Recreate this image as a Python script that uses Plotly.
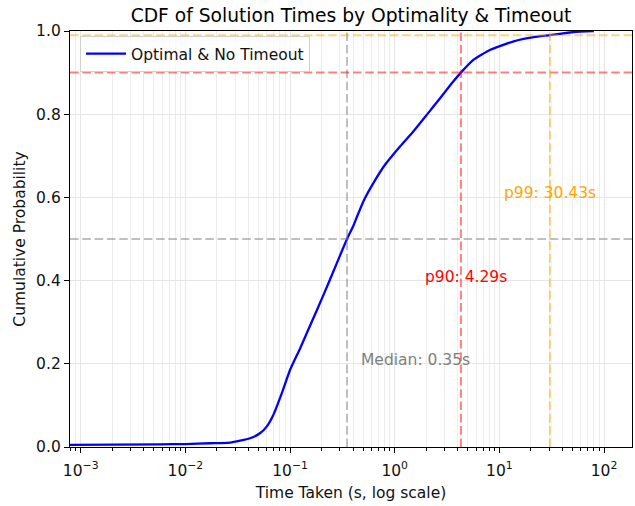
import numpy as np
import plotly.graph_objects as go

# CDF (time in seconds, cumulative probability)
time_s = [7.9e-4, 5.7e-3, 0.01, 0.0172, 0.0267, 0.0414, 0.0516, 0.0598, 0.0692,
          0.0833, 0.10, 0.1247, 0.1613, 0.2083, 0.280, 0.35, 0.403, 0.435, 0.503,
          0.627, 0.811, 1.129, 1.513, 2.033, 2.725, 3.527, 4.29, 5.677, 8.20,
          13.71, 21.29, 30.43, 51.4, 79.9]
cdf = [0.005, 0.0065, 0.007, 0.009, 0.0104, 0.021, 0.033, 0.049, 0.077,
       0.129, 0.185, 0.237, 0.301, 0.365, 0.442, 0.50, 0.532, 0.553, 0.591,
       0.635, 0.679, 0.723, 0.759, 0.799, 0.839, 0.875, 0.90, 0.931, 0.955,
       0.975, 0.985, 0.99, 0.9976, 1.0]

median_t = 0.35
p90_t = 4.29
p99_t = 30.43
levels = [0.5, 0.9, 0.99]

x_tickvals = [1e-3, 1e-2, 1e-1, 1e0, 1e1, 1e2]
x_ticktext = ["10<sup>\u22123</sup>", "10<sup>\u22122</sup>", "10<sup>\u22121</sup>",
              "10<sup>0</sup>", "10<sup>1</sup>", "10<sup>2</sup>"]
minor_vals = [m * 10.0 ** e for e in range(-4, 3) for m in range(2, 10)]

FONT = "DejaVu Sans"
FS = 15.5
dash = "8.6px,3.7px"

fig = go.Figure()
fig.add_trace(go.Scatter(x=time_s, y=cdf, mode="lines", name="Optimal & No Timeout",
                         line=dict(color="blue", width=2.3, shape="spline", smoothing=0.5)))

line_cols = ["rgba(128,128,128,0.5)", "rgba(255,0,0,0.5)", "rgba(255,165,0,0.5)"]
for t, lv, c in zip([median_t, p90_t, p99_t], levels, line_cols):
    fig.add_vline(x=t, line=dict(color=c, width=2.0, dash=dash))
    fig.add_hline(y=lv, line=dict(color=c, width=2.0, dash=dash))

ann = [(median_t * 1.3, 0.2, f"Median: {median_t:.2f}s", "gray"),
       (p90_t * 0.43, 0.4, f"p90: {p90_t:.2f}s", "red"),
       (p99_t * 0.35, 0.6, f"p99: {p99_t:.2f}s", "orange")]
for x, y, txt, col in ann:
    fig.add_annotation(x=np.log10(x), y=y, text=txt, showarrow=False, xanchor="left",
                       yanchor="middle", yshift=4, font=dict(family=FONT, size=FS, color=col))

fig.update_layout(
    width=635, height=506,
    margin=dict(l=70, r=3, t=31, b=59),
    paper_bgcolor="white", plot_bgcolor="white",
    font=dict(family=FONT, size=FS, color="#111"),
    title=dict(text="CDF of Solution Times by Optimality & Timeout", x=0.5, xref="paper",
               xanchor="center", y=1 - 15 / 506, yref="container", yanchor="middle",
               font=dict(family=FONT, size=18.7, color="black")),
    showlegend=True,
    legend=dict(x=0.0178, y=0.988, xanchor="left", yanchor="top", itemwidth=40,
                bgcolor="rgba(255,255,255,0.8)", bordercolor="#d0d0d0", borderwidth=1,
                font=dict(family=FONT, size=FS, color="#111")),
)
fig.update_xaxes(type="log", range=[np.log10(7.9e-4), np.log10(185)], automargin=False,
                 tickmode="array", tickvals=x_tickvals, ticktext=x_ticktext,
                 ticklabelstandoff=4,
                 showline=True, mirror=True, linecolor="black", linewidth=1.25,
                 ticks="outside", ticklen=5, tickwidth=1.25, tickcolor="black",
                 showgrid=True, gridcolor="#e6e6e6", gridwidth=1, zeroline=False,
                 minor=dict(tickmode="array", tickvals=minor_vals, ticks="outside",
                            ticklen=3, tickwidth=1, tickcolor="black",
                            showgrid=True, gridcolor="#ececec", gridwidth=1),
                 title=dict(text="Time Taken (s, log scale)", standoff=8,
                            font=dict(family=FONT, size=FS, color="#111")))
fig.update_yaxes(range=[0, 1], dtick=0.2, tickformat=".1f", automargin=False,
                 showline=True, mirror=True, linecolor="black", linewidth=1.25,
                 ticks="outside", ticklen=5, tickwidth=1.25, tickcolor="black",
                 showgrid=True, gridcolor="#e6e6e6", gridwidth=1, zeroline=False,
                 title=dict(text="Cumulative Probability", standoff=6,
                            font=dict(family=FONT, size=FS, color="#111")))

fig.write_html("out.html", config={"displayModeBar": False},
               post_script="document.body.style.margin='0px';")
